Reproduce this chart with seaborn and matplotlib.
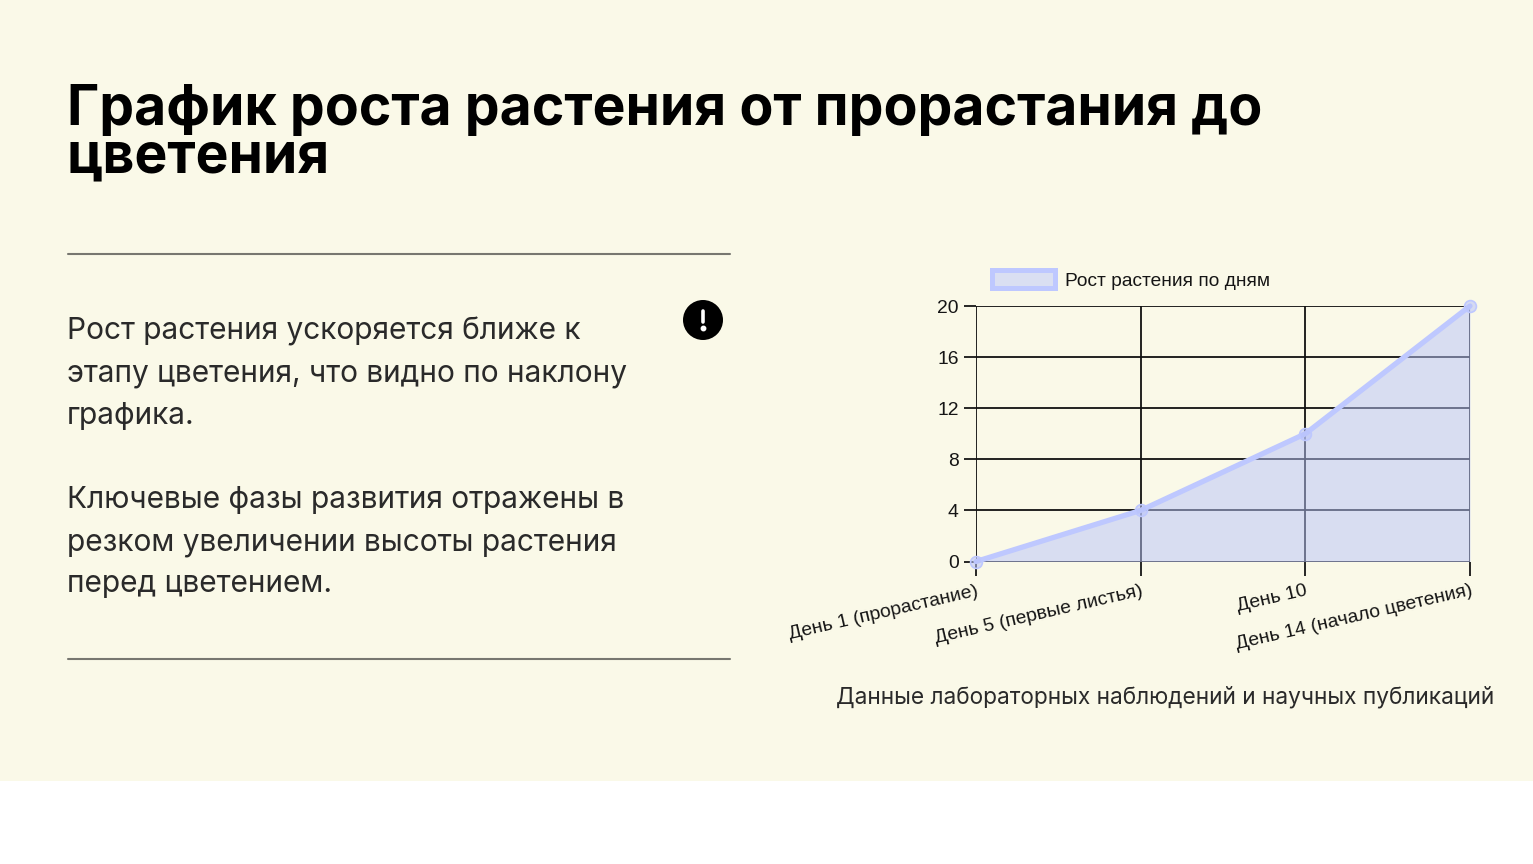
import matplotlib
matplotlib.use("Agg")
import matplotlib.pyplot as plt
import seaborn as sns
import pandas as pd
from matplotlib.lines import Line2D
from matplotlib.patches import Circle, Patch, Rectangle

categories = ["День 1 (прорастание)", "День 5 (первые листья)", "День 10", "День 14 (начало цветения)"]
heights = [0, 4, 10, 20]
y_ticks = [0, 4, 8, 12, 16, 20]
series_name = "Рост растения по дням"
title_lines = ["График роста растения от прорастания до", "цветения"]
para_lines = ["Рост растения ускоряется ближе к", "этапу цветения, что видно по наклону", "графика.",
              "Ключевые фазы развития отражены в", "резком увеличении высоты растения", "перед цветением."]
para_base = [339.5, 381.5, 424, 508.5, 550.5, 592.5]
source = "Данные лабораторных наблюдений и научных публикаций"

BG = "#FAF9E8"; W, H = 1533, 864
sns.set_theme(style="white")
plt.rcParams["font.family"] = ["Inter", "DejaVu Sans"]
fig = plt.figure(figsize=(W/100, H/100), dpi=100, facecolor="white")
fx = lambda x: x/W
fy = lambda y: 1-y/H
fig.add_artist(Rectangle((0, fy(780.5)), 1, 780.5/H, transform=fig.transFigure, fc=BG, ec="none", zorder=-5))

for i, t in enumerate(title_lines):
    fig.text(fx(67), fy(125+47*i), t, fontsize=39.85, fontweight="bold", color="black", va="baseline")
for y, t in zip(para_base, para_lines):
    fig.text(fx(67), fy(y), t, fontsize=21.5, color="#2a2a2a", va="baseline")
for y in (254, 659):
    fig.add_artist(Line2D([fx(67.5), fx(730)], [fy(y), fy(y)], color="#777770", lw=1.5, transform=fig.transFigure))
fig.text(fx(1494), fy(704), source, fontsize=16.35, color="#2a2a2a", ha="right", va="baseline")

# alert icon
icon = fig.add_axes([fx(683), fy(340), 40/W, 40/H]); icon.axis("off")
icon.set_xlim(-1, 1); icon.set_ylim(-1, 1)
icon.add_patch(Circle((0, 0), 1, fc="black", ec="none"))
icon.plot([0, 0], [0.45, -0.1], color="white", lw=2.6, solid_capstyle="round")
icon.plot([0], [-0.42], "o", color="white", ms=3.2)

ax = fig.add_axes([fx(976), fy(561.5), (1470-976)/W, (561.5-306)/H])
ax.set_facecolor("none")
df = pd.DataFrame({"pos": range(len(categories)), "h": heights})
ax.fill_between(df["pos"], df["h"], 0, color="#B8C3FA", alpha=0.5, lw=0, zorder=3)
sns.lineplot(data=df, x="pos", y="h", ax=ax, color="#BEC8FF", lw=3.8, zorder=4, legend=False,
             marker="o", markersize=8.5, markerfacecolor=(0.72, 0.76, 0.98, 0.55),
             markeredgecolor="#BEC8FF", markeredgewidth=1.2, clip_on=False, solid_capstyle="round")
ax.set_xlim(0, 3); ax.set_ylim(0, 20)
ax.set_xlabel(""); ax.set_ylabel("")
ax.set_xticks(df["pos"]); ax.set_yticks(y_ticks)
ax.set_xticklabels(categories, rotation=13, ha="right", rotation_mode="anchor",
                   family="Liberation Sans", fontsize=13.9, color="#151515")
ax.set_yticklabels(y_ticks, family="Liberation Sans", fontsize=13.9, color="#151515")
ax.tick_params(axis="x", length=10, width=1.3, color="#151515", pad=5, bottom=True)
ax.tick_params(axis="y", length=8.5, width=1.3, color="#151515", pad=4, left=True)
ax.grid(True, color="#111111", lw=1.3, zorder=1)
ax.set_axisbelow(True)
for s in ax.spines.values():
    s.set_visible(False)

leg = ax.legend(handles=[Patch(fc="#DADFF2", ec="#BEC8FF", lw=3.6, label=series_name)],
                loc="lower left", bbox_to_anchor=(fx(991.5), fy(289.5)), bbox_transform=fig.transFigure,
                frameon=False, borderpad=0, borderaxespad=0, handlelength=3.33, handleheight=1.0,
                handletextpad=0.52, prop={"family": "Liberation Sans", "size": 13.75})
for t in leg.get_texts():
    t.set_color("#151515")
fig.savefig("out.png", dpi=100, facecolor=fig.get_facecolor())
